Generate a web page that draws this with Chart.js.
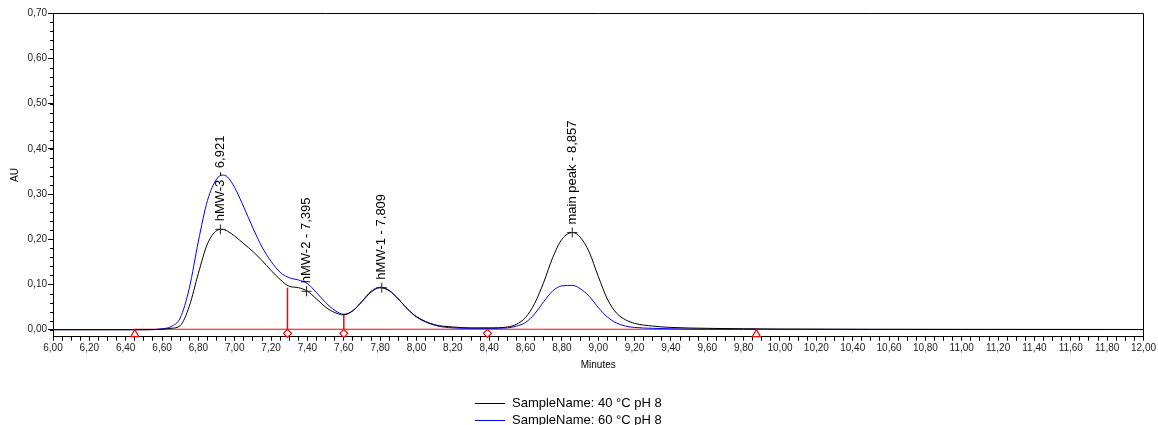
<!DOCTYPE html>
<html><head><meta charset="utf-8">
<script src="https://cdn.jsdelivr.net/npm/chart.js@4.4.1/dist/chart.umd.min.js"></script>
<style>html,body{margin:0;padding:0;background:#fff;}canvas{display:block;}</style>
</head><body>
<canvas id="c" width="1158" height="425"></canvas>
<script>
// ---- data ----
const times    = [6.00,6.50,6.60,6.65,6.70,6.75,6.80,6.85,6.90,6.93,6.96,7.00,7.05,7.10,7.15,7.20,7.25,7.30,7.35,7.40,7.45,7.50,7.55,7.60,7.65,7.70,7.75,7.80,7.85,7.90,7.95,8.00,8.10,8.20,8.30,8.40,8.50,8.55,8.60,8.65,8.70,8.75,8.80,8.86,8.90,8.95,9.00,9.05,9.10,9.15,9.20,9.30,9.40,9.60,9.80,10.00,10.50,11.00,12.00];
const sample40 = [0,0,0.001,0.003,0.009,0.052,0.125,0.190,0.219,0.222,0.218,0.207,0.190,0.173,0.153,0.131,0.111,0.096,0.093,0.085,0.068,0.050,0.038,0.033,0.042,0.062,0.083,0.093,0.086,0.068,0.046,0.029,0.011,0.006,0.004,0.004,0.006,0.012,0.027,0.058,0.105,0.160,0.200,0.215,0.205,0.172,0.118,0.068,0.037,0.022,0.014,0.008,0.005,0.003,0.002,0.0015,0.001,0.0008,0.0005];
const sample60 = [0,0,0.002,0.007,0.026,0.092,0.196,0.286,0.333,0.342,0.338,0.314,0.271,0.225,0.183,0.151,0.127,0.115,0.110,0.102,0.082,0.060,0.043,0.034,0.042,0.063,0.085,0.094,0.087,0.068,0.046,0.028,0.010,0.004,0.003,0.003,0.004,0.008,0.016,0.035,0.062,0.086,0.097,0.098,0.091,0.074,0.049,0.028,0.015,0.008,0.005,0.003,0.002,0.001,0.001,0.0008,0.0005,0.0004,0.0003];
const seriesNames = ['SampleName: 40 °C pH 8', 'SampleName: 60 °C pH 8'];
const seriesColors = ['#000000', '#0000ff'];

const peakNames   = ['hMW-3', 'hMW-2', 'hMW-1', 'main peak'];
const peakTimes   = [6.921, 7.395, 7.809, 8.857];
const peakHeights = [0.222, 0.085, 0.093, 0.215];

const baselineTimes = [6.45, 9.87];
const dropTimes   = [7.29, 7.60];
const dropHeights = [0.093, 0.033];
const diamondTimes = [7.29, 7.60, 8.39];

const xMajorTicks = [6.0,6.2,6.4,6.6,6.8,7.0,7.2,7.4,7.6,7.8,8.0,8.2,8.4,8.6,8.8,9.0,9.2,9.4,9.6,9.8,10.0,10.2,10.4,10.6,10.8,11.0,11.2,11.4,11.6,11.8,12.0];
const yMajorTicks = [0.0,0.1,0.2,0.3,0.4,0.5,0.6,0.7];

// minor tick positions (axis decoration)
const xAllTicks = []; for (let i = 0; i <= 120; i++) xAllTicks.push(6 + i * 0.05);
const yMinorTicks = []; for (let i = 0; i <= 35; i++) yMinorTicks.push(i * 0.02);

const fmt = (v, d) => v.toFixed(d).replace('.', ',');
const isMajorX = v => xMajorTicks.some(m => Math.abs(m - v) < 1e-6);

Chart.defaults.font.family = '"Liberation Sans", Arial, sans-serif';
Chart.defaults.color = '#000';

const curveDs = (i, vals) => ({
  label: seriesNames[i],
  data: times.map((t, k) => ({x: t, y: vals[k]})),
  borderColor: seriesColors[i], borderWidth: 1, pointRadius: 0,
  cubicInterpolationMode: 'monotone', fill: false, order: i + 1
});

const decor = {
  id: 'decor',
  afterDatasetsDraw(chart) {
    const {ctx, chartArea: a, scales: {x, y}} = chart;
    ctx.save();
    ctx.strokeStyle = '#000'; ctx.lineWidth = 1;
    const t = Math.round(a.top) + 0.5, r = Math.round(a.right) + 0.5;
    ctx.beginPath(); ctx.moveTo(a.left, t); ctx.lineTo(r, t); ctx.lineTo(r, a.bottom); ctx.stroke();
    // y minor ticks
    ctx.beginPath();
    yMinorTicks.forEach(v => {
      const py = Math.round(y.getPixelForValue(v)) + 0.5;
      ctx.moveTo(a.left - 3, py); ctx.lineTo(a.left, py);
    });
    ctx.stroke();
    // peak labels
    ctx.fillStyle = '#000';
    ctx.font = '13px "Liberation Sans", Arial, sans-serif';
    ctx.textAlign = 'left'; ctx.textBaseline = 'middle';
    peakNames.forEach((n, i) => {
      const px = x.getPixelForValue(peakTimes[i]);
      const py = y.getPixelForValue(peakHeights[i]);
      ctx.save(); ctx.translate(px, py - 8); ctx.rotate(-Math.PI / 2);
      ctx.fillText(n + ' - ' + fmt(peakTimes[i], 3), 0, 0);
      ctx.restore();
    });
    ctx.restore();
  },
  afterDraw(chart) {
    const {ctx} = chart;
    ctx.save();
    ctx.font = '13px "Liberation Sans", Arial, sans-serif';
    ctx.textAlign = 'left'; ctx.textBaseline = 'middle';
    seriesNames.forEach((n, i) => {
      const yy = 403.5 + 17 * i;
      ctx.strokeStyle = seriesColors[i]; ctx.lineWidth = 1;
      ctx.beginPath(); ctx.moveTo(475, yy); ctx.lineTo(505, yy); ctx.stroke();
      ctx.fillStyle = '#000';
      ctx.fillText(n, 512, yy);
    });
    ctx.restore();
  }
};

new Chart(document.getElementById('c'), {
  type: 'line',
  data: {
    datasets: [
      curveDs(0, sample40),
      curveDs(1, sample60),
      { data: baselineTimes.map(t => ({x: t, y: 0.001})), borderColor: '#ff0000', borderWidth: 1, pointRadius: 0, order: 5 },
      { data: [{x: dropTimes[0], y: 0}, {x: dropTimes[0], y: dropHeights[0]}], borderColor: '#ff0000', borderWidth: 1.5, pointRadius: 0, order: 4 },
      { data: [{x: dropTimes[1], y: 0}, {x: dropTimes[1], y: dropHeights[1]}], borderColor: '#ff0000', borderWidth: 1.5, pointRadius: 0, order: 4 },
      { data: baselineTimes.map(t => ({x: t, y: -0.0102})), showLine: false, pointStyle: 'triangle', pointRadius: 4.7,
        pointBackgroundColor: '#fff', pointBorderColor: '#ff0000', pointBorderWidth: 1.2, clip: false, order: 0 },
      { data: diamondTimes.map(t => ({x: t, y: -0.008})), showLine: false, pointStyle: 'rectRot', pointRadius: 4,
        pointBackgroundColor: '#fff', pointBorderColor: '#ff0000', pointBorderWidth: 1.2, clip: false, order: 0 },
      { data: peakTimes.map((t, i) => ({x: t, y: peakHeights[i]})), showLine: false, pointStyle: 'cross', pointRadius: 5,
        pointBorderColor: '#222', pointBorderWidth: 1, clip: false, order: 0 }
    ]
  },
  options: {
    responsive: false, animation: false, devicePixelRatio: 1,
    layout: { padding: { top: 13.3, right: 14, bottom: 0, left: 0 } },
    plugins: { legend: { display: false }, tooltip: { enabled: false } },
    events: [],
    scales: {
      x: {
        type: 'linear', min: 6, max: 12,
        afterBuildTicks: s => { s.ticks = xAllTicks.map(v => ({value: v})); },
        afterFit: s => { s.height = 88.3; },
        ticks: { autoSkip: false, maxRotation: 0, minRotation: 0, padding: 2, color: '#222',
                 font: { size: 10 }, callback: v => isMajorX(v) ? fmt(v, 2) : '' },
        grid: { drawOnChartArea: false, drawTicks: true, tickLength: 4, color: '#000' },
        border: { color: '#000', width: 1 },
        title: { display: true, text: 'Minutes', color: '#000', font: { size: 10 }, padding: { top: 0, bottom: 54 } }
      },
      y: {
        min: -0.0155, max: 0.70,
        afterBuildTicks: s => { s.ticks = yMajorTicks.map(v => ({value: v})); },
        afterFit: s => { s.width = 53; },
        ticks: { padding: 1, color: '#222', font: { size: 10 }, callback: v => fmt(v, 2) },
        grid: { drawOnChartArea: false, drawTicks: true, tickLength: 5, color: '#000' },
        border: { color: '#000', width: 1 },
        title: { display: true, text: 'AU', color: '#000', font: { size: 10 }, padding: { top: 9, bottom: 0 } }
      }
    }
  },
  plugins: [decor]
});
</script>
</body></html>
